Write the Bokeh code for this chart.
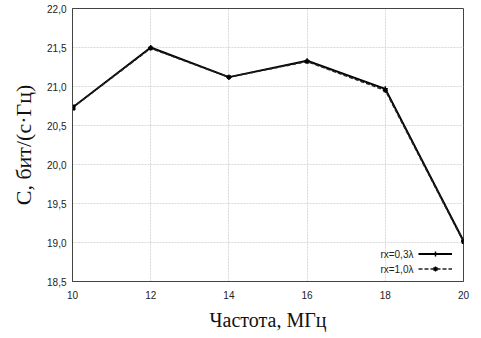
from bokeh.plotting import figure
from bokeh.models import FixedTicker, Legend, LegendItem, Range1d, Label
from bokeh.embed import file_html
from bokeh.resources import INLINE

freq = [10, 12, 14, 16, 18, 20]
c_rx03 = [20.73, 21.50, 21.12, 21.33, 20.97, 19.02]
c_rx10 = [20.73, 21.49, 21.12, 21.32, 20.95, 19.01]
series_names = ["rx=0,3λ", "rx=1,0λ"]
x_ticks = [10, 12, 14, 16, 18, 20]
y_ticks = [18.5, 19.0, 19.5, 20.0, 20.5, 21.0, 21.5, 22.0]
y_tick_labels = ["18,5", "19,0", "19,5", "20,0", "20,5", "21,0", "21,5", "22,0"]

p = figure(width=473, height=333, output_backend="svg", toolbar_location=None,
           x_range=Range1d(10, 20), y_range=Range1d(18.5, 22.0),
           min_border_left=72, min_border_right=10, min_border_top=8, min_border_bottom=10)

p.xaxis.ticker = FixedTicker(ticks=x_ticks)
p.yaxis.ticker = FixedTicker(ticks=y_ticks)
p.yaxis.major_label_overrides = {t: l for t, l in zip(y_ticks, y_tick_labels)}

for ax in (p.xaxis, p.yaxis):
    ax.major_label_text_font = "Liberation Sans"
    ax.major_label_text_font_size = "10px"
    ax.major_label_text_color = "#222222"
    ax.axis_line_color = "#444444"
    ax.major_tick_in = 0
    ax.major_tick_out = 0
    ax.minor_tick_line_color = None
    ax.axis_label_text_font = "Liberation Serif"
    ax.axis_label_text_font_style = "normal"
    ax.axis_label_text_color = "#111111"

p.xaxis.axis_label = "Частота, МГц"
p.xaxis.axis_label_text_font_size = "20px"
p.xaxis.major_label_standoff = 9
p.xaxis.axis_label_standoff = 7
p.yaxis.axis_label = "С, бит/(с·Гц)"
p.yaxis.axis_label_text_font_size = "22px"
p.yaxis.major_label_standoff = 6
p.yaxis.axis_label_standoff = 8

p.outline_line_color = "#444444"
p.outline_line_width = 1
p.xgrid.grid_line_color = "#d8d8d8"
p.ygrid.grid_line_color = "#d8d8d8"
p.xgrid.grid_line_dash = "2 1"
p.ygrid.grid_line_dash = "2 1"

l1 = p.line(freq, c_rx03, line_color="black", line_width=2)
m1 = p.scatter(freq, c_rx03, marker="cross", size=5, line_color="black", line_width=1.5)
l2 = p.line(freq, c_rx10, line_color="#222222", line_width=1.5, line_dash="4 2")
m2 = p.scatter(freq, c_rx10, marker="asterisk", size=5, line_color="black", line_width=1.2)
sq = p.scatter(freq[:1], c_rx03[:1], marker="square", size=5, fill_color="black", line_color="black")

legend = Legend(items=[LegendItem(label=" ", renderers=[l1, m1]),
                       LegendItem(label=" ", renderers=[l2, m2])],
                location=(346, 6), background_fill_alpha=0, border_line_color=None,
                label_text_font="Liberation Sans", label_text_font_size="9px",
                glyph_width=34, glyph_height=13, label_height=13, spacing=2,
                padding=0, margin=0, label_standoff=0, label_width=1)
p.add_layout(legend)

for name, yv in zip(series_names, [18.85, 18.66]):
    p.add_layout(Label(x=18.72, y=yv, text=name, text_align="right", text_baseline="middle",
                       text_font="Liberation Sans", text_font_size="10px", text_color="#222222"))

open("out.html", "w").write(file_html(p, INLINE))
